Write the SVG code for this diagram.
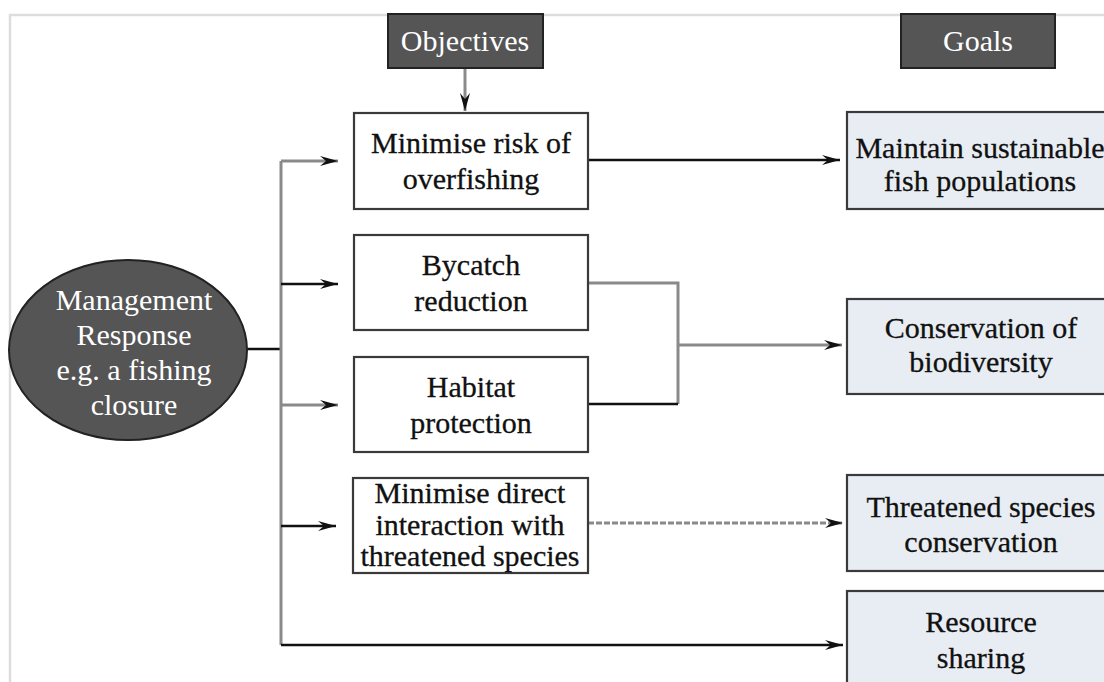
<svg xmlns="http://www.w3.org/2000/svg" width="1104" height="682" viewBox="0 0 1104 682">
<style>
  text { font-family: "Liberation Serif", "Times New Roman", serif; font-size: 30px; text-anchor: middle; }
  .w { fill: #ffffff; }
  .k { fill: #111111; stroke: #111111; stroke-width: 0.3; }
  .hdr { fill: #555555; stroke: #222222; stroke-width: 2; }
  .obj { fill: #ffffff; stroke: #3a3a3a; stroke-width: 2.2; }
  .goal { fill: #e8edf3; stroke: #3a3a3a; stroke-width: 2.2; }
  .blk { fill: none; stroke: #111111; stroke-width: 2.4; }
  .gry { fill: none; stroke: #8a8a8a; stroke-width: 3; }
  .dsh { fill: none; stroke: #8a8a8a; stroke-width: 3; stroke-dasharray: 6 2; }
</style>
<defs>
  <marker id="ah" markerUnits="userSpaceOnUse" markerWidth="20" markerHeight="12" refX="18" refY="6" orient="auto">
    <path d="M0,1 L18,6 L0,11 L6,6 Z" fill="#111111"/>
  </marker>
</defs>
<rect x="0" y="0" width="1104" height="682" fill="#ffffff"/>
<g id="frame">
  <path d="M10,682 V15 H1104" fill="none" stroke="#dddddd" stroke-width="2.5"/>
</g>
<g id="connectors">
  <path class="gry" d="M465,68 V111" marker-end="url(#ah)"/>
  <path class="blk" d="M247,349 H281"/>
  <path class="gry" d="M281,161 V645"/>
  <path class="gry" d="M281,161 H338" marker-end="url(#ah)"/>
  <path class="blk" d="M281,284 H338" marker-end="url(#ah)"/>
  <path class="gry" d="M281,405 H338" marker-end="url(#ah)"/>
  <path class="blk" d="M281,526 H336" marker-end="url(#ah)"/>
  <path class="blk" d="M281,645 H843" marker-end="url(#ah)"/>
  <path class="blk" d="M589,160 H840" marker-end="url(#ah)"/>
  <path class="gry" d="M588,283 H678 V404"/>
  <path class="blk" d="M588,404 H678"/>
  <path class="gry" d="M678,345 H842" marker-end="url(#ah)"/>
  <path class="dsh" d="M588,523 H843" marker-end="url(#ah)"/>
</g>
<g id="hdr-objectives">
  <rect class="hdr" x="388" y="14" width="155" height="54"/>
  <text class="w" x="465" y="51">Objectives</text>
</g>
<g id="hdr-goals">
  <rect class="hdr" x="901" y="14" width="154" height="54"/>
  <text class="w" x="978" y="51">Goals</text>
</g>
<g id="management">
  <ellipse cx="128" cy="350" rx="119" ry="90" fill="#555555" stroke="#222222" stroke-width="2"/>
  <text class="w" x="134" y="310">Management</text>
  <text class="w" x="134" y="345">Response</text>
  <text class="w" x="134" y="380">e.g. a fishing</text>
  <text class="w" x="134" y="415">closure</text>
</g>
<g id="obj-overfishing">
  <rect class="obj" x="354" y="113" width="234" height="96"/>
  <text class="k" x="471" y="153">Minimise risk of</text>
  <text class="k" x="471" y="189">overfishing</text>
</g>
<g id="obj-bycatch">
  <rect class="obj" x="354" y="235" width="234" height="95"/>
  <text class="k" x="471" y="275">Bycatch</text>
  <text class="k" x="471" y="311">reduction</text>
</g>
<g id="obj-habitat">
  <rect class="obj" x="354" y="357" width="234" height="95"/>
  <text class="k" x="471" y="397">Habitat</text>
  <text class="k" x="471" y="433">protection</text>
</g>
<g id="obj-direct">
  <rect class="obj" x="353" y="478" width="235" height="95"/>
  <text class="k" x="470" y="503">Minimise direct</text>
  <text class="k" x="470" y="535">interaction with</text>
  <text class="k" x="470" y="566">threatened species</text>
</g>
<g id="goal-sustainable">
  <rect class="goal" x="847" y="112" width="270" height="97"/>
  <text class="k" x="980" y="158">Maintain sustainable</text>
  <text class="k" x="980" y="191">fish populations</text>
</g>
<g id="goal-biodiversity">
  <rect class="goal" x="847" y="299" width="270" height="95"/>
  <text class="k" x="981" y="338">Conservation of</text>
  <text class="k" x="981" y="372">biodiversity</text>
</g>
<g id="goal-threatened">
  <rect class="goal" x="847" y="475" width="270" height="96"/>
  <text class="k" x="981" y="517">Threatened species</text>
  <text class="k" x="981" y="552">conservation</text>
</g>
<g id="goal-resource">
  <rect class="goal" x="847" y="591" width="270" height="100"/>
  <text class="k" x="981" y="632">Resource</text>
  <text class="k" x="981" y="668">sharing</text>
</g>
</svg>
